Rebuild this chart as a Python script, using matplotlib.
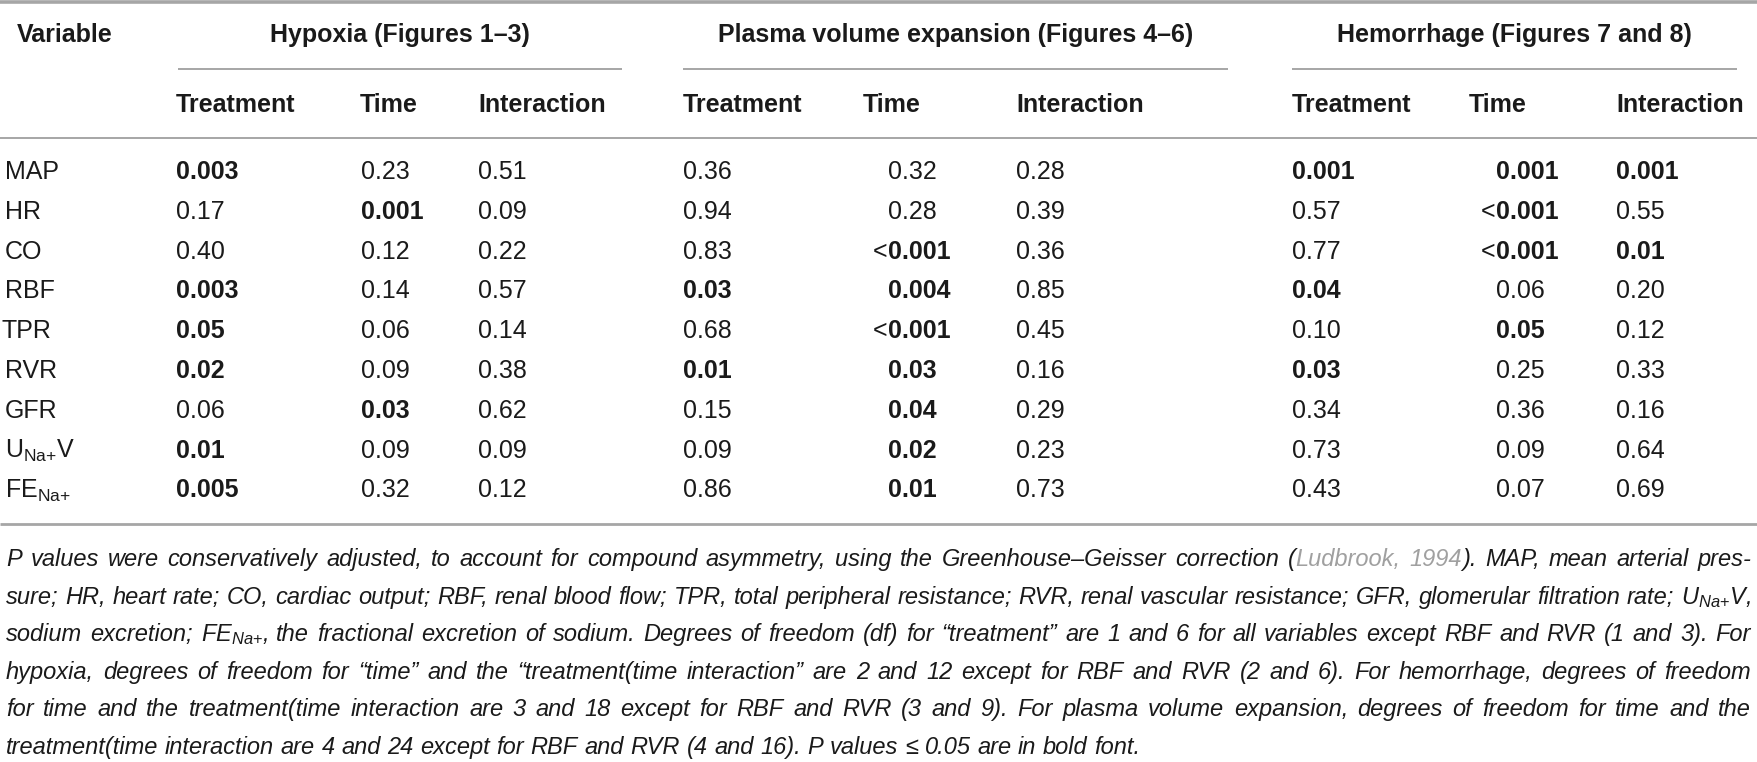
import matplotlib
matplotlib.use("Agg")
import matplotlib.pyplot as plt

plt.rcParams['font.family'] = ['Liberation Sans', 'DejaVu Sans']
plt.rcParams['mathtext.fontset'] = 'custom'
plt.rcParams['mathtext.rm'] = 'Liberation Sans'
plt.rcParams['mathtext.it'] = 'Liberation Sans:italic'
plt.rcParams['mathtext.bf'] = 'Liberation Sans:bold'

# table data (P values)
variables = ["MAP", "HR", "CO", "RBF", "TPR", "RVR", "GFR",
             r"U$_{\mathrm{Na}{+}}$V", r"FE$_{\mathrm{Na}{+}}$"]
groups = ["Hypoxia (Figures 1\u20133)", "Plasma volume expansion (Figures 4\u20136)",
          "Hemorrhage (Figures 7 and 8)"]
subheads = ["Treatment", "Time", "Interaction"]

hypoxia_treatment = ["0.003", "0.17", "0.40", "0.003", "0.05", "0.02", "0.06", "0.01", "0.005"]
hypoxia_time = ["0.23", "0.001", "0.12", "0.14", "0.06", "0.09", "0.03", "0.09", "0.32"]
hypoxia_interaction = ["0.51", "0.09", "0.22", "0.57", "0.14", "0.38", "0.62", "0.09", "0.12"]
plasma_treatment = ["0.36", "0.94", "0.83", "0.03", "0.68", "0.01", "0.15", "0.09", "0.86"]
plasma_time = ["0.32", "0.28", "<0.001", "0.004", "<0.001", "0.03", "0.04", "0.02", "0.01"]
plasma_interaction = ["0.28", "0.39", "0.36", "0.85", "0.45", "0.16", "0.29", "0.23", "0.73"]
hem_treatment = ["0.001", "0.57", "0.77", "0.04", "0.10", "0.03", "0.34", "0.73", "0.43"]
hem_time = ["0.001", "<0.001", "<0.001", "0.06", "0.05", "0.25", "0.36", "0.09", "0.07"]
hem_interaction = ["0.001", "0.55", "0.01", "0.20", "0.12", "0.33", "0.16", "0.64", "0.69"]

# footnote, '|' toggles the grey (link) colour
caption = [
    "P values were conservatively adjusted, to account for compound asymmetry, using the "
    "Greenhouse\u2013Geisser correction (|Ludbrook, 1994|). MAP, mean arterial pres-",
    "sure; HR, heart rate; CO, cardiac output; RBF, renal blood flow; TPR, total peripheral "
    "resistance; RVR, renal vascular resistance; GFR, glomerular filtration rate; "
    r"U$_{\mathit{Na}{+}}$V,",
    r"sodium excretion; FE$_{\mathit{Na}{+}}$, the fractional excretion of sodium. Degrees of "
    "freedom (df) for \u201ctreatment\u201d are 1 and 6 for all variables except RBF and RVR (1 and 3). For",
    "hypoxia, degrees of freedom for \u201ctime\u201d and the \u201ctreatment(time interaction\u201d "
    "are 2 and 12 except for RBF and RVR (2 and 6). For hemorrhage, degrees of freedom",
    "for time and the treatment(time interaction are 3 and 18 except for RBF and RVR (3 and 9). "
    "For plasma volume expansion, degrees of freedom for time and the",
    "treatment(time interaction are 4 and 24 except for RBF and RVR (4 and 16). "
    "P values \u2264 0.05 are in bold font.",
]

W, H = 1757, 762
TXT = '#1a1a1a'
RULE = '#a6a6a6'
FS = 18

fig = plt.figure(figsize=(W / 100, H / 100), dpi=100)
ax = fig.add_axes([0, 0, 1, 1])
ax.set_xlim(0, W)
ax.set_ylim(H, 0)
ax.axis('off')
renderer = fig.canvas.get_renderer()


def hline(x0, x1, y, lw):
    ax.plot([x0, x1], [y, y], color=RULE, lw=lw, solid_capstyle='butt')


# rules
hline(0, W, 1.5, 2.6)
hline(0, W, 138, 1.4)
hline(0, W, 524, 2.0)

col_x = [[176, 361, 478], [683, 888, 1016], [1292, 1496, 1616]]
head_x = [[176, 360, 478], [683, 863, 1016], [1292, 1469, 1616]]
spans = [(178, 622), (683, 1228), (1292, 1737)]
columns = [[hypoxia_treatment, hypoxia_time, hypoxia_interaction],
           [plasma_treatment, plasma_time, plasma_interaction],
           [hem_treatment, hem_time, hem_interaction]]

ax.text(17, 42, "Variable", fontsize=FS, weight='bold', color=TXT, va='baseline')
for g, name in enumerate(groups):
    x0, x1 = spans[g]
    ax.text((x0 + x1) / 2, 42, name, fontsize=FS, weight='bold', color=TXT,
            ha='center', va='baseline')
    hline(x0, x1, 69, 1.4)
    for c, sh in enumerate(subheads):
        ax.text(head_x[g][c], 112, sh, fontsize=FS, weight='bold', color=TXT, va='baseline')

row_y = [179 + 39.8 * i for i in range(len(variables))]
for i, v in enumerate(variables):
    x = 2 if v == "TPR" else 5
    ax.text(x, row_y[i], v, fontsize=FS, color=TXT, va='baseline')

for g in range(3):
    for c in range(3):
        for i, s in enumerate(columns[g][c]):
            x, y = col_x[g][c], row_y[i]
            bold = float(s.lstrip('<')) <= 0.05
            if s.startswith('<'):
                ax.text(x - 1, y, '<', fontsize=FS, color=TXT, ha='right', va='baseline')
                s = s[1:]
            ax.text(x, y, s, fontsize=FS, color=TXT, va='baseline',
                    weight='bold' if bold else 'normal')


# justified italic footnote
def text_width(s, size):
    t = ax.text(0, 0, s, fontsize=size, style='italic')
    w = t.get_window_extent(renderer).width
    t.remove()
    return w


x_left, x_right = 6, 1751
cap_y = [566 + 37.6 * k for k in range(len(caption))]

# largest size (max 17 pt) that keeps every justified line inside the width
base = 17
space_w = text_width('a a', base) - 2 * text_width('a', base)
fit = 1.0
for line in caption[:-1]:
    words = line.replace('|', '').split(' ')
    need = sum(text_width(w, base) for w in words) + (len(words) - 1) * space_w * 0.9
    fit = min(fit, (x_right - x_left) / need)
CFS = base * fit
sp = space_w * fit


def layout_line(line, y, justify):
    grey = False
    words = []
    for w in line.split(' '):
        segs = []
        for k, part in enumerate(w.split('|')):
            if k > 0:
                grey = not grey
            if part:
                t = ax.text(0, y, part, fontsize=CFS, style='italic', va='baseline',
                            color='#a0a0a0' if grey else TXT)
                segs.append((t, t.get_window_extent(renderer).width))
        words.append(segs)
    total = sum(wd for segs in words for _, wd in segs)
    gap = (x_right - x_left - total) / (len(words) - 1) if justify else sp
    x = x_left
    for segs in words:
        for t, wd in segs:
            t.set_x(x)
            x += wd
        x += gap


for k, line in enumerate(caption):
    layout_line(line, cap_y[k], k < len(caption) - 1)

fig.savefig('out.png', dpi=100)
